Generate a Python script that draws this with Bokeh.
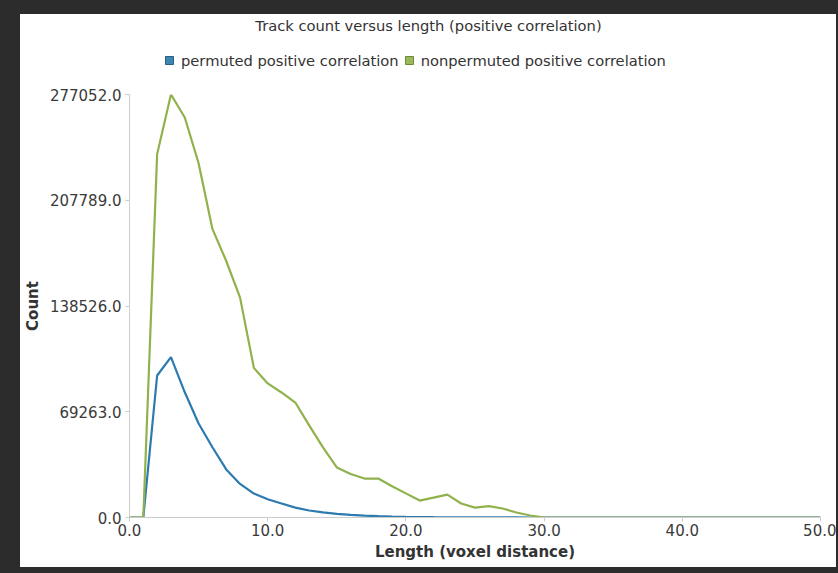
from bokeh.plotting import figure
from bokeh.models import (Range1d, FixedTicker, PrintfTickFormatter, Legend, LegendItem, Label)
from bokeh.layouts import column
from bokeh.embed import file_html
from bokeh.resources import INLINE

# ---- data ----
length = list(range(0, 51))
permuted = [0, 0, 93000, 105000, 82000, 61600, 46000, 31500, 22000, 15700,
            12000, 9200, 6500, 4600, 3300, 2400, 1700, 1200, 850, 600,
            420, 300, 200, 150, 100, 70, 50, 30, 20, 10,
            0, 0, 0, 0, 0, 0, 0, 0, 0, 0,
            0, 0, 0, 0, 0, 0, 0, 0, 0, 0, 0]
nonpermuted = [0, 0, 238000, 277052, 262000, 232000, 189000, 168000, 144000, 98000,
               87800, 81900, 75300, 60300, 45900, 32750, 28500, 25500, 25500, 20500,
               15800, 11100, 13000, 15000, 9200, 6500, 7400, 5900, 3300, 1300,
               0, 0, 0, 0, 0, 0, 0, 0, 0, 0,
               0, 0, 0, 0, 0, 0, 0, 0, 0, 0, 0]
y_ticks = [0, 69263, 138526, 207789, 277052]
x_ticks = [0, 10, 20, 30, 40, 50]
series_names = ["permuted positive correlation", "nonpermuted positive correlation"]
title_text = "Track count versus length (positive correlation)"

BLUE = "#2c7bb0"
GREEN = "#8fb24c"
FONT = "DejaVu Sans"
W = 816
HEAD_H = 72

# ---- header: title + legend (frame is aligned with the chart's frame by the column) ----
head = figure(width=W, height=HEAD_H, output_backend="svg", toolbar_location=None,
              x_range=Range1d(0, 1), y_range=Range1d(-2, -1),
              x_axis_type=None, y_axis_type=None,
              min_border=0, title=None)
head.outline_line_color = "white"
head.xgrid.grid_line_color = None
head.ygrid.grid_line_color = None
head.border_fill_color = "white"
head.background_fill_color = "white"

# zero-size quads built from the series, used only as square legend swatches
sw_blue = head.quad(left=length, right=length, top=permuted, bottom=permuted,
                    fill_color="#3d86b3", line_color="#2a5f80")
sw_green = head.quad(left=length, right=length, top=nonpermuted, bottom=nonpermuted,
                     fill_color="#97b95a", line_color="#6d8a3a")

legend = Legend(items=[LegendItem(label=series_names[0], renderers=[sw_blue]),
                       LegendItem(label=series_names[1], renderers=[sw_green])],
                orientation="horizontal", location=(35, 17),
                border_line_alpha=0, background_fill_alpha=0,
                glyph_width=10, glyph_height=10, label_height=18, label_standoff=7, spacing=5,
                padding=0, margin=0,
                label_text_font=FONT, label_text_font_size="14.7px", label_text_color="#333333")
head.add_layout(legend, "center")

title_label = Label(x=299, y=HEAD_H - 11, x_units="screen", y_units="screen", text=title_text,
                    text_align="center", text_baseline="middle",
                    text_font=FONT, text_font_size="14.7px", text_color="#333333")
head.add_layout(title_label)

# ---- main chart ----
p = figure(width=W, height=553 - HEAD_H, output_backend="svg", toolbar_location=None,
           x_range=Range1d(0, 50), y_range=Range1d(0, 277052),
           min_border_left=108, min_border_right=16, min_border_top=8, min_border_bottom=50,
           title=None)
p.outline_line_color = "white"
p.xgrid.grid_line_color = None
p.ygrid.grid_line_color = None
p.background_fill_color = "white"
p.border_fill_color = "white"

p.line(length, permuted, line_color=BLUE, line_width=2.2)
p.line(length, nonpermuted, line_color=GREEN, line_width=2.2)

for ax in (p.xaxis[0], p.yaxis[0]):
    ax.axis_line_color = "#cccccc"
    ax.major_tick_line_color = "#cccccc"
    ax.minor_tick_line_color = None
    ax.major_tick_in = 0
    ax.major_tick_out = 4
    ax.major_label_text_font = FONT
    ax.major_label_text_font_size = "15px"
    ax.major_label_text_color = "#3a3a3a"
    ax.axis_label_text_font = FONT
    ax.axis_label_text_font_size = "15px"
    ax.axis_label_text_font_style = "bold"
    ax.axis_label_text_color = "#333333"
    ax.major_label_standoff = 2

p.yaxis.major_label_standoff = 4
p.xaxis.ticker = FixedTicker(ticks=x_ticks)
p.yaxis.ticker = FixedTicker(ticks=y_ticks)
p.xaxis.formatter = PrintfTickFormatter(format="%.1f")
p.yaxis.formatter = PrintfTickFormatter(format="%.1f")
p.xaxis.axis_label = "Length (voxel distance)"
p.yaxis.axis_label = "Count"
p.xaxis.axis_label_standoff = 4
p.yaxis.axis_label_standoff = 5

inner = column(head, p, spacing=0, styles={"background-color": "white"})
layout = column(inner, styles={"background-color": "#2c2c2c", "padding": "14px 2px 6px 20px"})

open("out.html", "w").write(file_html(layout, INLINE))
